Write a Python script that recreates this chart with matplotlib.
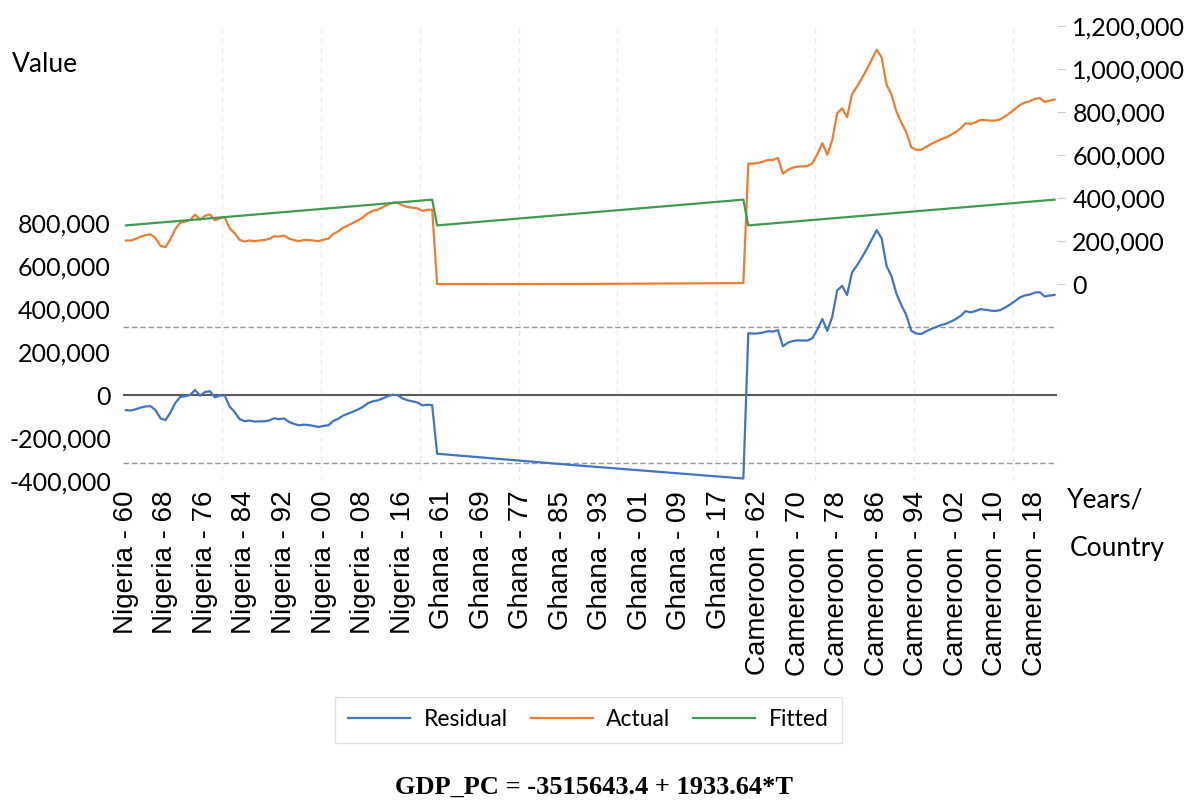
import numpy as np
import matplotlib
matplotlib.use("Agg")
import matplotlib.pyplot as plt

# panel: 3 countries x 63 years (1960-2022)
countries = ["Nigeria", "Ghana", "Cameroon"]
years = list(range(1960, 2023))

nigeria_actual = [204, 204, 212, 222, 229, 232, 215, 179, 173, 210, 257, 287, 292, 300, 325, 300,
                  319, 325, 298, 308, 311, 261, 238, 207, 199, 204, 201, 204, 206, 212, 224, 222,
                  227, 213, 206, 201, 206, 206, 204, 201, 208, 213, 235, 247, 264, 275, 286, 298,
                  312, 331, 342, 348, 359, 371, 380, 380, 367, 360, 357, 354, 342, 347, 347]
ghana_actual = [1.0, 1.0, 1.1, 1.1, 1.1, 1.2, 1.2, 1.2, 1.2, 1.3, 1.3, 1.3, 1.3, 1.3, 1.4, 1.3,
                1.3, 1.3, 1.3, 1.4, 1.4, 1.3, 1.2, 1.2, 1.3, 1.4, 1.4, 1.5, 1.6, 1.7, 1.7, 1.8,
                1.9, 1.9, 2.0, 2.1, 2.1, 2.2, 2.3, 2.4, 2.5, 2.6, 2.7, 2.8, 3.0, 3.1, 3.3, 3.4,
                3.6, 3.9, 4.1, 4.4, 4.6, 4.8, 4.9, 5.0, 5.1, 5.2, 5.3, 5.4, 5.4, 5.5, 5.6]
cameroon_actual = [562, 562, 565, 571, 579, 579, 588, 515, 533, 543, 548, 549, 551, 564, 607, 657,
                   603, 672, 796, 819, 778, 885, 920, 959, 1001, 1047, 1092, 1055, 928, 883, 803, 752,
                   707, 637, 626, 626, 640, 653, 664, 675, 683, 695, 709, 726, 750, 746, 754, 765,
                   764, 762, 762, 768, 782, 798, 816, 835, 846, 852, 863, 867, 849, 855, 860]

# fitted line per year (same for every country)
fitted_by_year = [274291, 276225, 278158, 280092, 282026, 283959, 285893, 287826, 289760, 291694,
                  293627, 295561, 297495, 299428, 301362, 303296, 305229, 307163, 309096, 311030,
                  312964, 314897, 316831, 318765, 320698, 322632, 324566, 326499, 328433, 330366,
                  332300, 334234, 336167, 338101, 340035, 341968, 343902, 345836, 347769, 349703,
                  351637, 353570, 355504, 357437, 359371, 361305, 363238, 365172, 367106, 369039,
                  370973, 372907, 374840, 376774, 378707, 380641, 382575, 384508, 386442, 388376,
                  390309, 392243, 394177]
resid_sd = 315000  # dashed +/- band

actual = np.array(nigeria_actual + ghana_actual + cameroon_actual) * 1000
fitted = np.array(fitted_by_year * len(countries), dtype=float)
residual = actual - fitted

labels = [f"{c} - {y % 100:02d}" for c in countries for y in years]
x = np.arange(len(labels))

BLUE, ORANGE, GREEN = "#4472C4", "#ED7D31", "#3E9B4F"
CAL = "Lato"

fig = plt.figure(figsize=(12.01, 8.07), dpi=100)
ax = fig.add_axes([0.1028, 0.404, 0.7773, 0.5632])
ax2 = ax.twinx()

for g in np.arange(19.5, len(x), 20):
    ax.axvline(g, color="#ebebeb", lw=1, ls=(0, (4, 3)), zorder=0)
ax.axhline(0, color="#595959", lw=1.5, zorder=1)
for s in (resid_sd, -resid_sd):
    ax.axhline(s, color="#9a9a9a", lw=1, ls=(0, (4, 2)), zorder=1)

l_res, = ax.plot(x, residual, color=BLUE, lw=1.6, label="Residual", zorder=3)
l_act, = ax2.plot(x, actual, color=ORANGE, lw=1.6, label="Actual", zorder=3)
l_fit, = ax2.plot(x, fitted, color=GREEN, lw=1.6, label="Fitted", zorder=3)

ax.set_xlim(-0.5, len(x) - 0.5)
ax.set_ylim(-400000, 1715000)
ax2.set_ylim(-915000, 1200000)

ax.set_yticks(np.arange(-400000, 800001, 200000))
ax.set_yticklabels([f"{v:,.0f}" for v in np.arange(-400000, 800001, 200000)],
                   fontfamily=CAL, fontsize=18)
ax2.set_yticks(np.arange(0, 1200001, 200000))
ax2.set_yticklabels([f"{v:,.0f}" for v in np.arange(0, 1200001, 200000)],
                    fontfamily=CAL, fontsize=18)
ax.tick_params(axis="y", length=0, pad=9)
ax2.tick_params(axis="y", length=6, color="#c8c8c8", pad=5)

tick_pos = x[::8]
ax.set_xticks(tick_pos)
ax.set_xticklabels([labels[i] for i in tick_pos], rotation=90,
                   fontfamily="Liberation Sans", fontsize=20)
ax.tick_params(axis="x", length=0, pad=7)

for a in (ax, ax2):
    for sp in a.spines.values():
        sp.set_visible(False)

fig.text(0.010, 0.920, "Value", fontfamily=CAL, fontsize=19, va="center", ha="left")
fig.text(0.888, 0.380, "Years/", fontfamily=CAL, fontsize=19, va="center", ha="left")
fig.text(0.891, 0.320, "Country", fontfamily=CAL, fontsize=19, va="center", ha="left")

fig.legend([l_res, l_act, l_fit], ["Residual", "Actual", "Fitted"],
           loc="center", bbox_to_anchor=(0.490, 0.108), ncol=3, frameon=True,
           fancybox=False, edgecolor="#d9d9d9", prop={"family": CAL, "size": 16.5},
           handlelength=2.7, handletextpad=0.6, columnspacing=1.0, borderpad=0.55)

fig.text(0.4946, 0.0248, "GDP_PC = -3515643.4 + 1933.64*T", fontfamily="Liberation Serif",
         fontweight="bold", fontsize=19, ha="center", va="center")

fig.savefig("out.png", dpi=100)
